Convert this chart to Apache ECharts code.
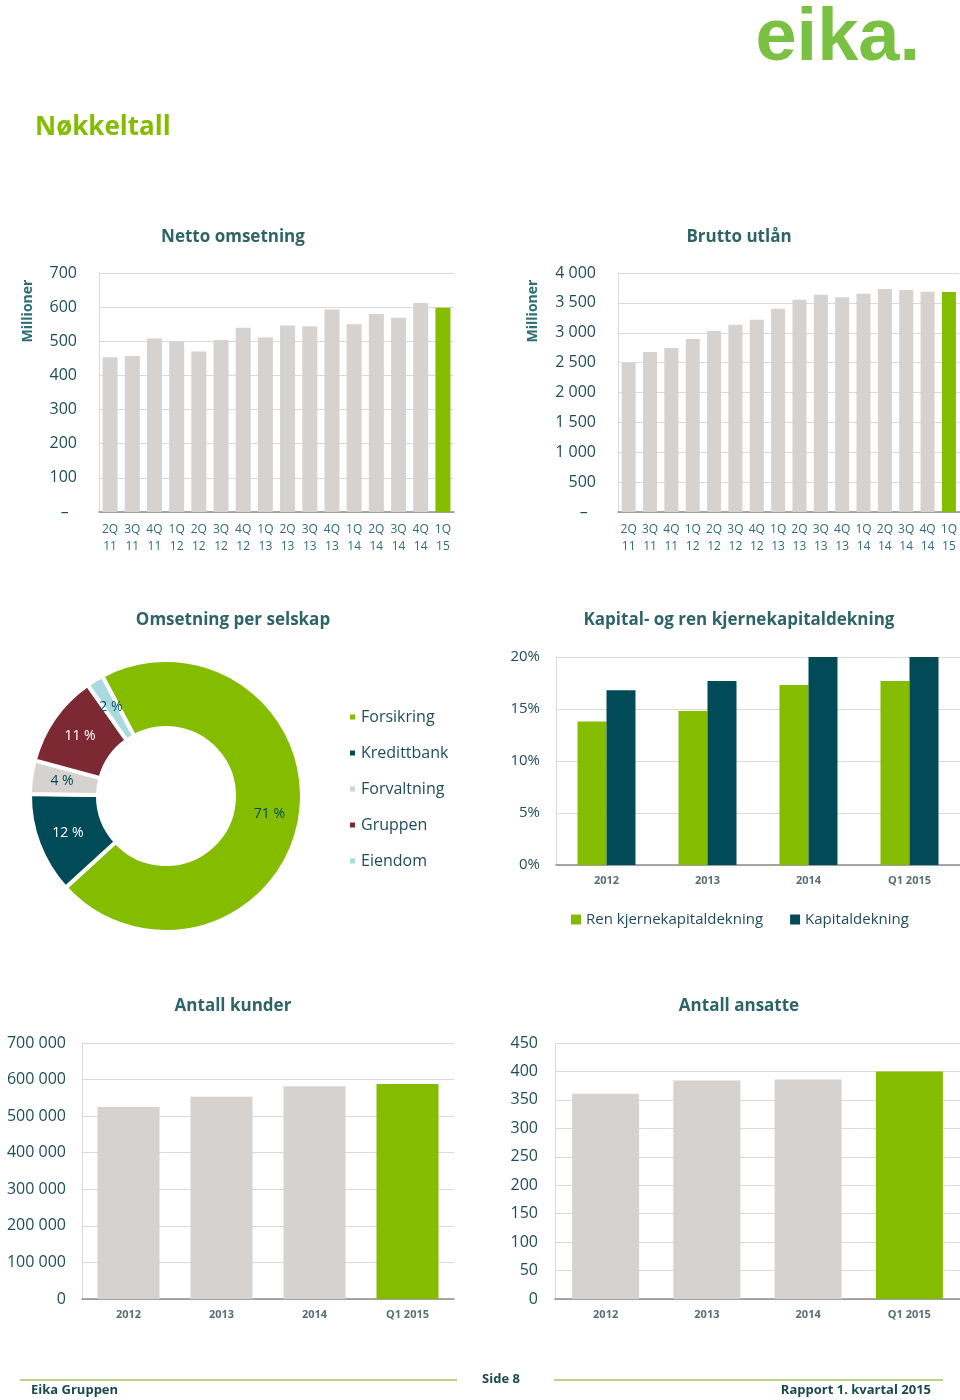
<!DOCTYPE html>
<html>
<head>
<meta charset="utf-8">
<script src="https://cdn.jsdelivr.net/npm/echarts@6/dist/echarts.min.js"></script>
<style>
html,body{margin:0;padding:0;background:#fff;}
#page{width:960px;height:1400px;}
</style>
</head>
<body>
<div id="page"></div>
<script>
// ---- DATA ----
const quarterLabels = ['2Q\n11','3Q\n11','4Q\n11','1Q\n12','2Q\n12','3Q\n12','4Q\n12','1Q\n13','2Q\n13','3Q\n13','4Q\n13','1Q\n14','2Q\n14','3Q\n14','4Q\n14','1Q\n15'];
const nettoOmsetning = [453,457,508,499,470,504,540,511,546,544,593,550,580,569,612,598];
const bruttoUtlan = [2494,2678,2745,2895,3029,3135,3219,3403,3554,3637,3593,3654,3732,3715,3688,3682];
const selskaper = ['Forsikring','Kredittbank','Forvaltning','Gruppen','Eiendom'];
const selskapAndel = [71,12,4,11,2];
const kapitalKategorier = ['2012','2013','2014','Q1 2015'];
const renKjernekapital = [13.8,14.8,17.3,17.7];
const kapitaldekning = [16.8,17.7,20.0,20.0];
const aarKategorier = ['2012','2013','2014','Q1 2015'];
const antallKunder = [525000,553000,582000,588000];
const antallAnsatte = [361,384,386,400];

// ---- STYLE ----
const GREEN='#84bc00', GREY='#d5d2cf', TEAL='#004b57', MAROON='#7c2933', LTEAL='#a9dadf';
const AXTXT='#1f4d57', TITLE='#2e6468', FONT='"Open Sans", "DejaVu Sans", sans-serif';

function sp(v){ return String(v).replace(/\B(?=(\d{3})+(?!\d))/g,' '); }
function lastGreen(arr){ return arr.map((v,i)=> i===arr.length-1 ? {value:v,itemStyle:{color:GREEN}} : v); }

const grids = [
  {left:99, top:273, width:355, height:239},
  {left:618, top:273, width:342, height:239},
  {left:556, top:657, width:404, height:208},
  {left:82, top:1043, width:372, height:256},
  {left:555, top:1043, width:405, height:256}
];

function yAx(gi, min, max, interval, fmt, margin, fs){
  return {type:'value', gridIndex:gi, min:min, max:max, interval:interval,
    axisLine:{show:true, lineStyle:{color:'#d9d9d9'}}, axisTick:{show:false},
    splitLine:{lineStyle:{color:'#d9d9d9', width:1}},
    axisLabel:{formatter:fmt, margin:margin, color:AXTXT, fontSize:fs||16, fontFamily:FONT}};
}
function xAx(gi, cats, quarter){
  return {type:'category', gridIndex:gi, data:cats,
    axisLine:{lineStyle:{color:'#8c8c8c', width:1.5}}, axisTick:{show:false},
    axisLabel: quarter ? {interval:0, color:'#2f6b78', fontSize:12, lineHeight:17, margin:9, fontFamily:FONT}
                       : {interval:0, color:'#566f74', fontSize:11, fontWeight:'bold', margin:10, fontFamily:FONT}};
}

function gtext(text, x, y, opts){
  opts = opts || {};
  return {type:'text', x:x, y:y, rotation:opts.rotation||0, silent:true,
    style:{text:text, fill:opts.color||TITLE, fontSize:opts.size||17, fontWeight:opts.weight||'bold',
      fontFamily:opts.family||FONT, align:opts.align||'center', verticalAlign:'middle',
      shadowColor:opts.shadow?'rgba(0,0,0,0.18)':null, shadowOffsetX:opts.shadow?1:0, shadowOffsetY:opts.shadow?1:0, shadowBlur:opts.shadow?1:0}};
}

const labelColors = [TEAL,'#ffffff',TEAL,'#ffffff',TEAL];
const sliceColors = [GREEN,TEAL,GREY,MAROON,LTEAL];
const zeroDash = v => v===0 ? '–  ' : sp(v);

const option = {
  animation:false,
  backgroundColor:'#fff',
  grid: grids,
  xAxis:[
    xAx(0, quarterLabels, true),
    xAx(1, quarterLabels, true),
    xAx(2, kapitalKategorier, false),
    xAx(3, aarKategorier, false),
    xAx(4, aarKategorier, false)
  ],
  yAxis:[
    yAx(0, 0, 700, 100, zeroDash, 22),
    yAx(1, 0, 4000, 500, zeroDash, 22),
    yAx(2, 0, 20, 5, v=> v+'%', 16, 15),
    yAx(3, 0, 700000, 100000, v=> sp(v), 16),
    yAx(4, 0, 450, 50, v=> String(v), 17)
  ],
  legend:[
    {data:selskaper, orient:'vertical', left:343, top:704, itemWidth:7, itemHeight:7, itemGap:20, icon:'rect',
      textStyle:{fontSize:16, color:AXTXT, fontFamily:FONT}},
    {data:['Ren kjernekapitaldekning','Kapitaldekning'], left:566, top:907, itemWidth:10, itemHeight:10, itemGap:27, icon:'rect',
      textStyle:{fontSize:15, color:AXTXT, fontFamily:FONT}}
  ],
  series:[
    {type:'bar', name:'Netto omsetning', xAxisIndex:0, yAxisIndex:0, data:lastGreen(nettoOmsetning), barWidth:15, itemStyle:{color:GREY}},
    {type:'bar', name:'Brutto utlån', xAxisIndex:1, yAxisIndex:1, data:lastGreen(bruttoUtlan), barWidth:14, itemStyle:{color:GREY}},
    {type:'pie', name:'Omsetning per selskap', center:[166,796], radius:[68,136], startAngle:118, clockwise:true,
      avoidLabelOverlap:false, itemStyle:{borderColor:'#fff', borderWidth:4},
      label:{position:'inside', formatter:'{c} %', fontSize:14, fontFamily:FONT},
      labelLine:{show:false},
      data: selskaper.map((n,i)=>({name:n, value:selskapAndel[i], itemStyle:{color:sliceColors[i]}, label:{color:labelColors[i]}}))},
    {type:'bar', name:'Ren kjernekapitaldekning', xAxisIndex:2, yAxisIndex:2, data:renKjernekapital, barWidth:29, barGap:'0%', clip:true, itemStyle:{color:GREEN}},
    {type:'bar', name:'Kapitaldekning', xAxisIndex:2, yAxisIndex:2, data:kapitaldekning, barWidth:29, barGap:'0%', clip:true, itemStyle:{color:TEAL}},
    {type:'bar', name:'Antall kunder', xAxisIndex:3, yAxisIndex:3, data:lastGreen(antallKunder), barWidth:62, itemStyle:{color:GREY}},
    {type:'bar', name:'Antall ansatte', xAxisIndex:4, yAxisIndex:4, data:lastGreen(antallAnsatte), barWidth:67, itemStyle:{color:GREY}}
  ],
  graphic:[
    gtext('eika.', 920, 40, {color:'#7ac143', size:74, weight:'bold', family:'"Liberation Sans", Arial, sans-serif', align:'right'}),
    gtext('Nøkkeltall', 35, 128, {color:GREEN, size:26, align:'left'}),
    gtext('Netto omsetning', 233, 237, {shadow:true}),
    gtext('Brutto utlån', 739, 237, {shadow:true}),
    gtext('Omsetning per selskap', 233, 620, {shadow:true}),
    gtext('Kapital- og ren kjernekapitaldekning', 739, 620, {shadow:true}),
    gtext('Antall kunder', 233, 1006, {shadow:true}),
    gtext('Antall ansatte', 739, 1006, {shadow:true}),
    gtext('Millioner', 28, 311, {size:14, color:'#2d6e73', rotation:Math.PI/2}),
    gtext('Millioner', 533, 311, {size:14, color:'#2d6e73', rotation:Math.PI/2}),
    {type:'line', silent:true, shape:{x1:20,y1:1380,x2:457,y2:1380}, style:{stroke:'#b8d486', lineWidth:2}},
    {type:'line', silent:true, shape:{x1:554,y1:1380,x2:943,y2:1380}, style:{stroke:'#b8d486', lineWidth:2}},
    gtext('Eika Gruppen', 31, 1390, {size:13, color:'#1a4a50', align:'left'}),
    gtext('Side 8', 501, 1379, {size:13, color:'#1a4a50'}),
    gtext('Rapport 1. kvartal 2015', 931, 1390, {size:13, color:'#1a4a50', align:'right'})
  ]
};

const chart = echarts.init(document.getElementById('page'), null, {renderer:'canvas', width:960, height:1400});
chart.setOption(option);
</script>
</body>
</html>
